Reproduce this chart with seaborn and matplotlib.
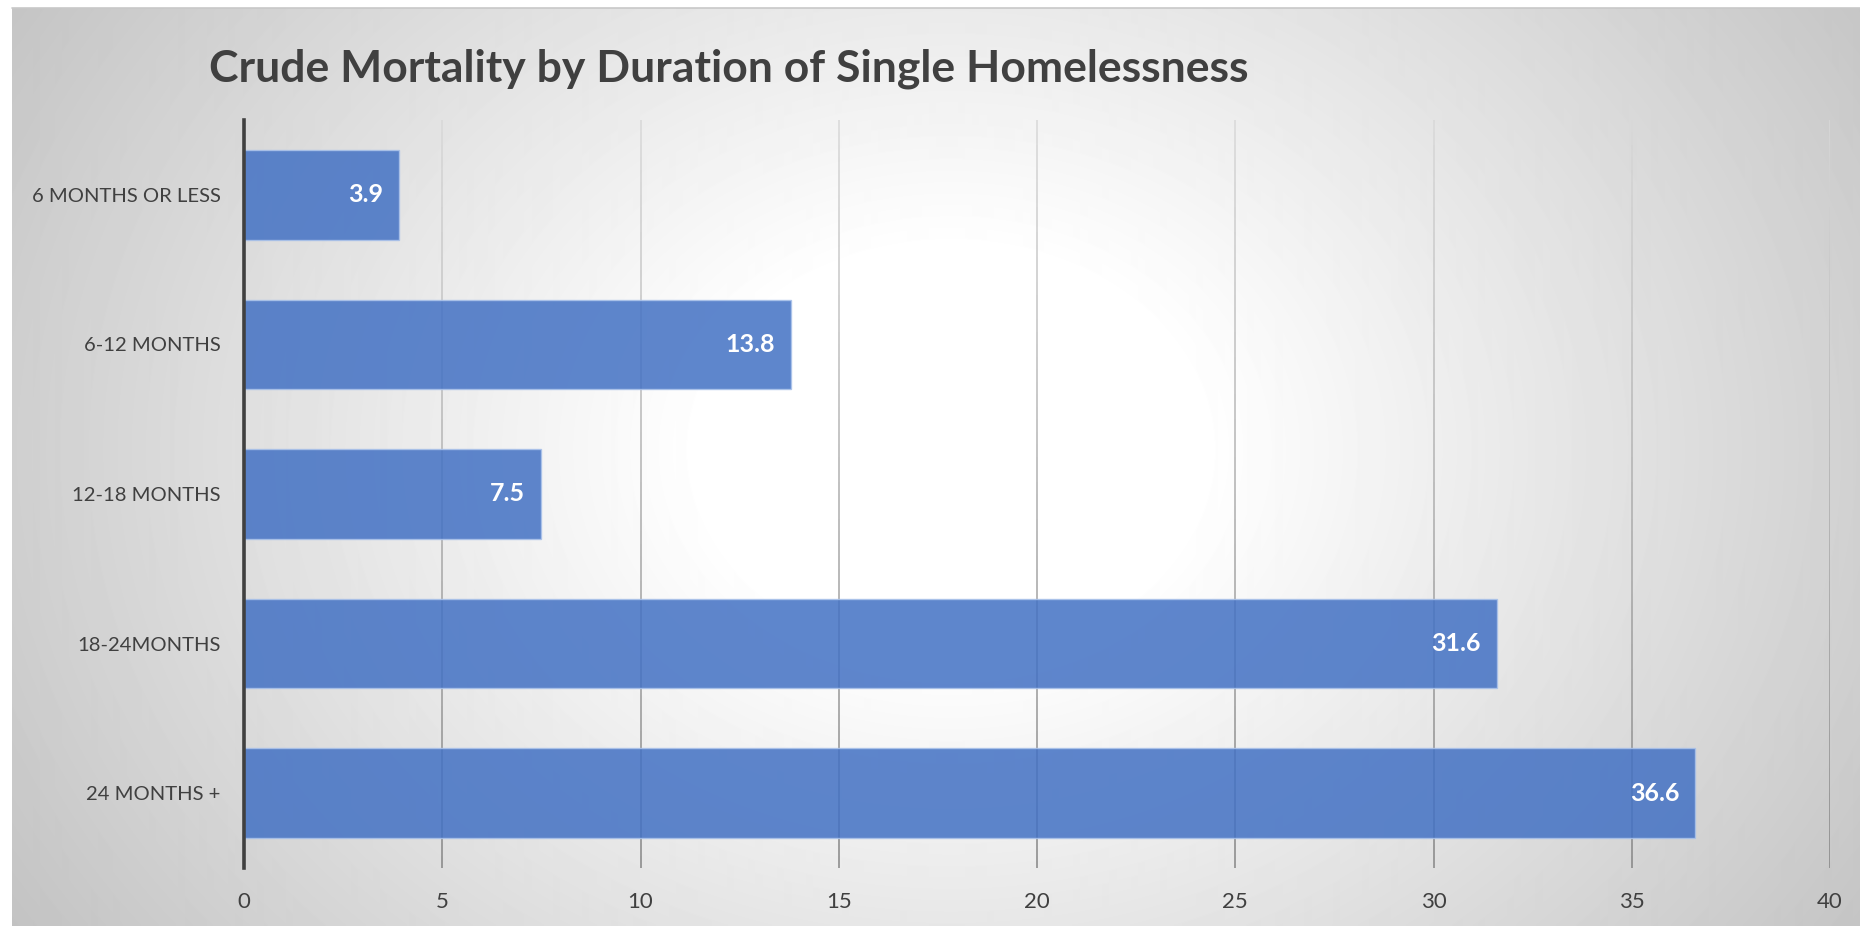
import numpy as np
import pandas as pd
import matplotlib
matplotlib.use("Agg")
import matplotlib.pyplot as plt
import seaborn as sns
from matplotlib.collections import LineCollection
from matplotlib.transforms import blended_transform_factory, offset_copy

# ---- data ----
categories = ["6 MONTHS OR LESS", "6-12 MONTHS", "12-18 MONTHS", "18-24MONTHS", "24 MONTHS +"]
values = [3.9, 13.8, 7.5, 31.6, 36.6]
x_ticks = [0, 5, 10, 15, 20, 25, 30, 35, 40]
title = "Crude Mortality by Duration of Single Homelessness"

df = pd.DataFrame({"category": categories, "value": values})

sns.set_theme(style="white")
plt.rcParams["font.family"] = ["Lato", "DejaVu Sans"]

W, H = 1860, 926
fig = plt.figure(figsize=(W / 100, H / 100), dpi=100)
fig.patch.set_facecolor("white")

# ---- radial gradient background ----
bg = fig.add_axes([12 / W, 0, 1 - 12 / W, 1 - 8 / H], zorder=-10)
yy, xx = np.mgrid[0:H - 8, 12:W]
yy = yy + 8
cx, cy = 950, 450
r = np.sqrt(((xx - cx) / 1.25) ** 2 + (yy - cy) ** 2)
t = np.clip((r - 200) / 700, 0, 1)
val = 1.0 - 0.24 * t
bg.imshow(val, cmap="gray", vmin=0, vmax=1, aspect="auto", interpolation="bilinear")
bg.set_axis_off()
fig.add_artist(plt.Line2D([12 / W, 1], [1 - 8 / H, 1 - 8 / H], color="#c8c8c8", lw=1.2,
                          transform=fig.transFigure))

# ---- main axes ----
ax = fig.add_axes([244 / W, 1 - 868 / H, (1830 - 244) / W, (868 - 120) / H])
ax.patch.set_alpha(0)

sns.barplot(data=df, y="category", x="value", orient="h", order=categories,
            color="#4472C4", width=0.6, saturation=1, ax=ax, zorder=3)
for p in ax.patches:
    p.set_alpha(0.86)
    p.set_edgecolor("#aac2ea")
    p.set_linewidth(1.0)

ax.set_xlim(0, 40)
ax.set_ylim(len(categories) - 0.5, -0.5)
ax.set_xticks(x_ticks)
ax.set_xticklabels([str(v) for v in x_ticks])
ax.set_xlabel("")
ax.set_ylabel("")

# gradient gridlines
trans = blended_transform_factory(ax.transData, ax.transAxes)
n = 60
ys = np.linspace(0, 1, n + 1)
top_c = np.array([0.85, 0.85, 0.85])
bot_c = np.array([0.52, 0.52, 0.52])
for xv in x_ticks[1:]:
    segs = [[(xv, ys[i]), (xv, ys[i + 1])] for i in range(n)]
    cols = [tuple(bot_c + (top_c - bot_c) * ((ys[i] + ys[i + 1]) / 2)) for i in range(n)]
    lc = LineCollection(segs, colors=cols, linewidths=1.1, transform=trans, zorder=2)
    ax.add_collection(lc)

for s in ["top", "right", "bottom"]:
    ax.spines[s].set_visible(False)
ax.spines["left"].set_color("#404040")
ax.spines["left"].set_linewidth(2.6)
ax.spines["left"].set_zorder(6)

ax.tick_params(axis="x", length=0, pad=17, labelsize=16, labelcolor="#404040")
ax.tick_params(axis="y", length=0, pad=17, labelsize=14.6, labelcolor="#404040")

# value labels
lab_trans = offset_copy(ax.transData, fig=fig, x=-16, y=0, units="dots")
for i, v in enumerate(values):
    ax.text(v, i, f"{v}", ha="right", va="center", color="white", fontsize=18,
            fontweight="bold", transform=lab_trans, zorder=7)

fig.text(209 / W, 1 - 69 / H, title, ha="left", va="center", fontsize=32,
         fontweight="bold", color="#404040")

fig.savefig("out.png", dpi=100)
